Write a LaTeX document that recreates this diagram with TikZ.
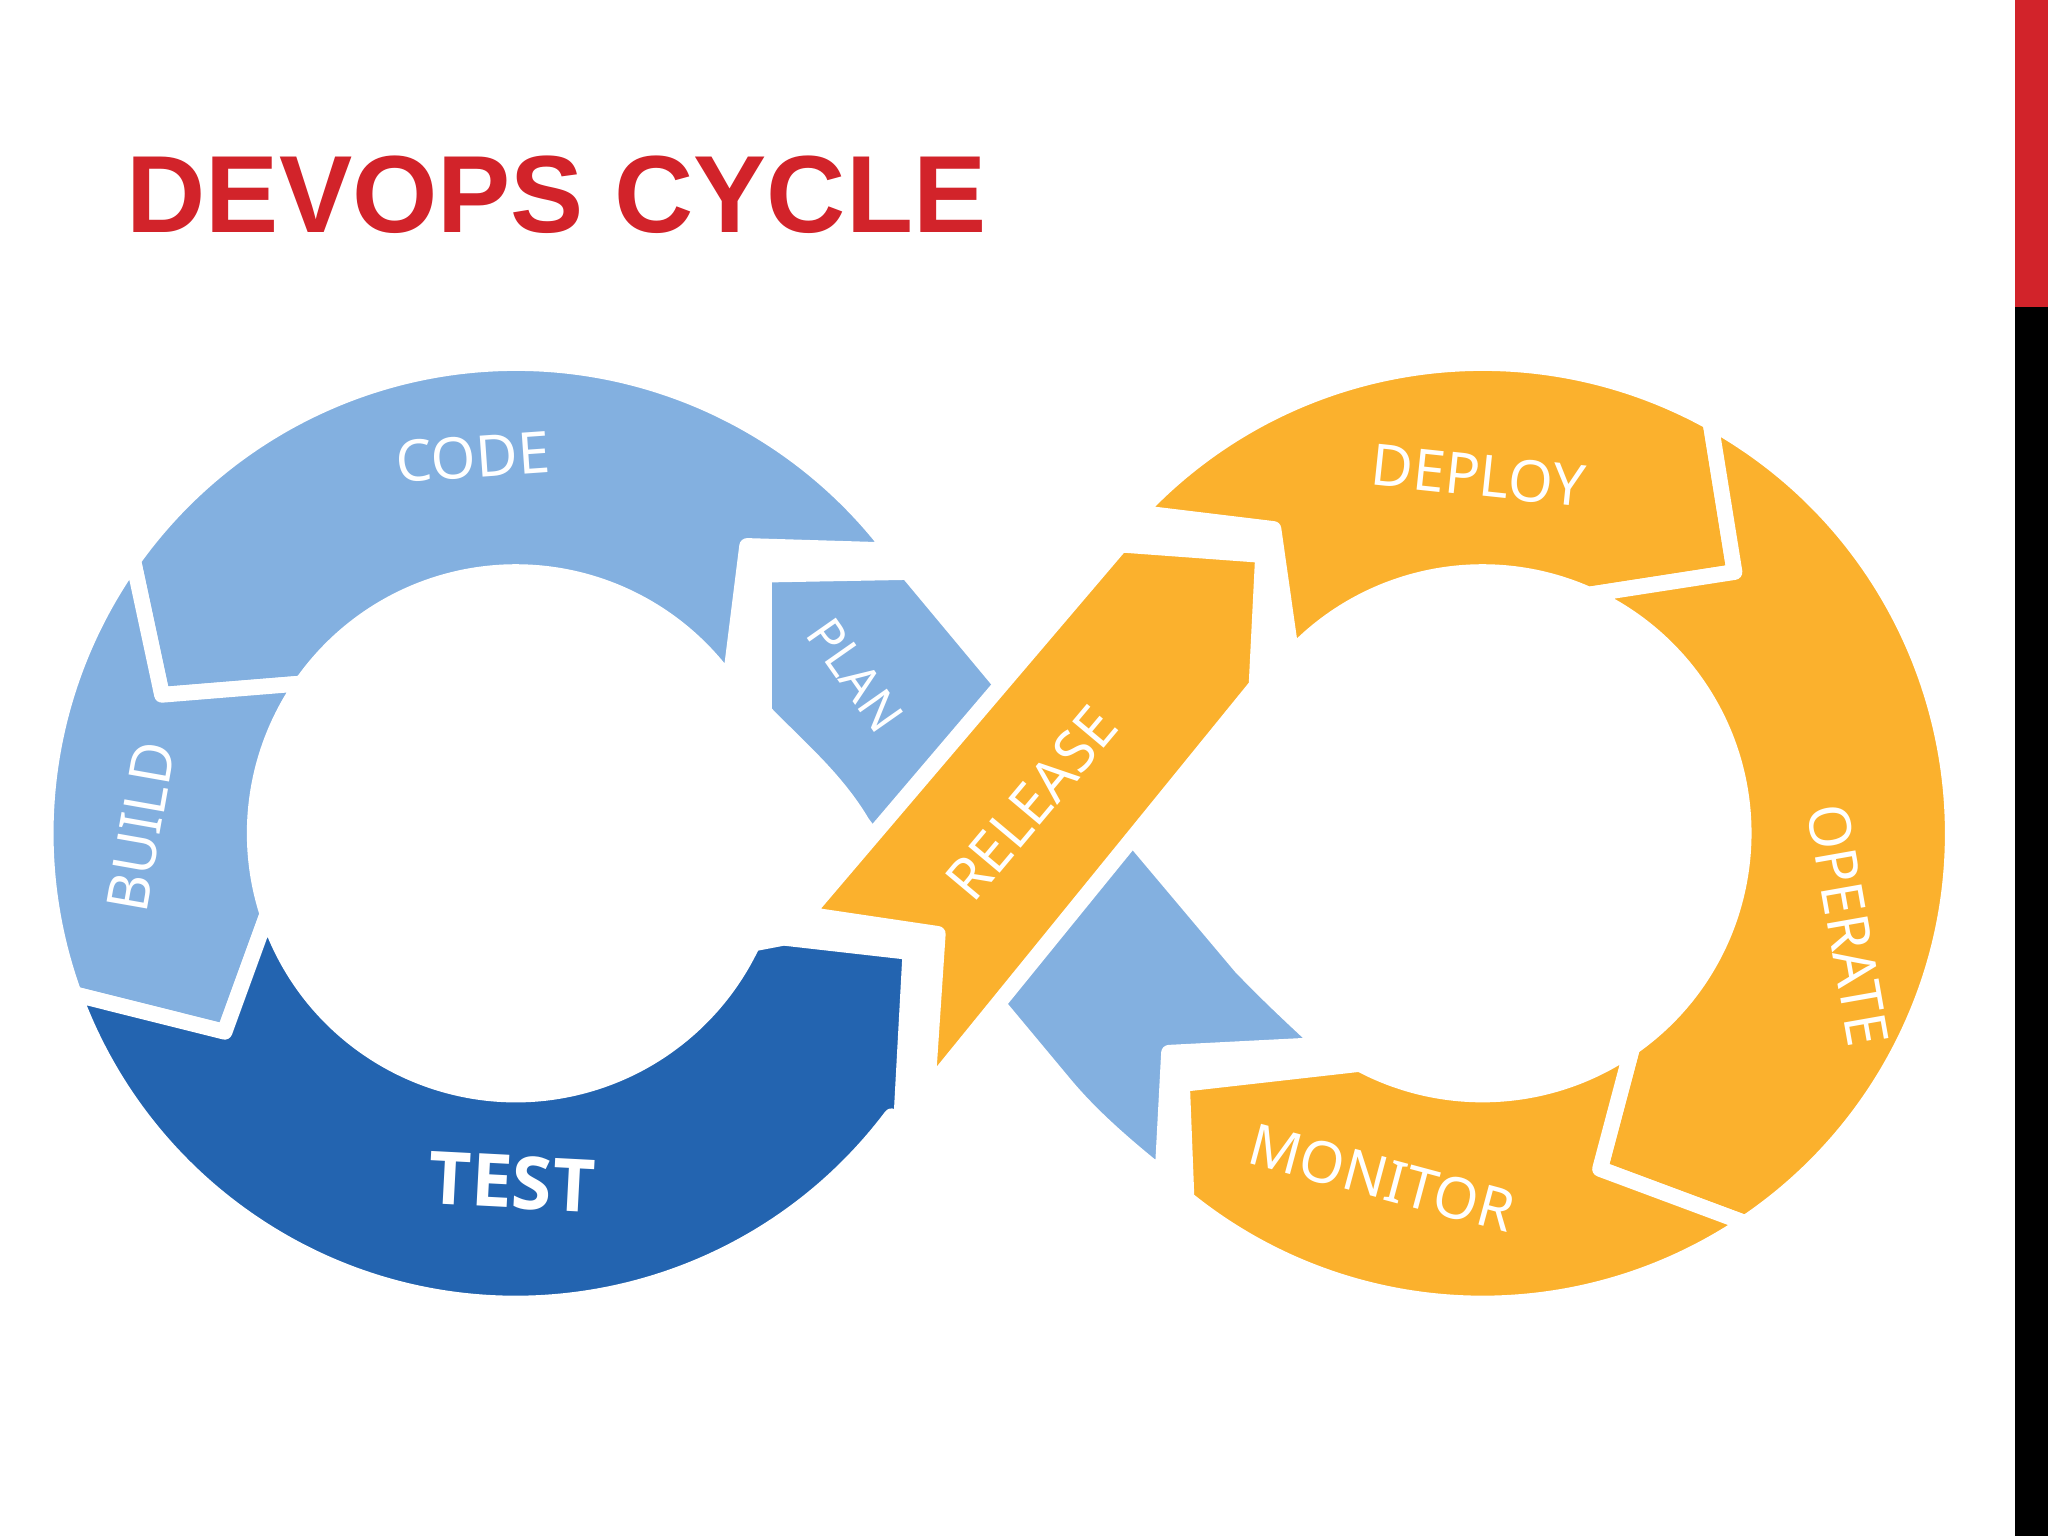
\documentclass[tikz,border=0pt]{standalone}
\usepackage{fontspec}
\setmainfont{Noto Sans}
\newfontfamily\titlefont{Liberation Sans}
\newfontfamily\testfont{Open Sans}
\definecolor{lblue}{HTML}{83B0E0}
\definecolor{dblue}{HTML}{2364B0}
\definecolor{orng}{HTML}{FBB12D}
\definecolor{tred}{HTML}{D2232A}
\begin{document}
\begin{tikzpicture}[x=0.5pt,y=0.5pt,
  piece/.style={draw=white,line width=6pt,line join=round},
  lab/.style={text=white,font=\fontsize{22}{22}\selectfont}]
\useasboundingbox (0,0) rectangle (1568,1176);
\fill[white] (0,0) rectangle (1568,1176);
\fill[black] (1543,0) rectangle (1568,941);
\fill[tred] (1543,941) rectangle (1568,1176);
\node[anchor=west,text=tred,font=\titlefont\bfseries\fontsize{42}{42}\selectfont] (title) at (90,1027) {DEVOPS CYCLE};
% crossing light blue band
\path[piece,fill=lblue] (585,736) -- (695,738) -- (765,654) -- (870,531) -- (950,436) .. controls (975,410) and (995,392) .. (1012,376) -- (895,370) -- (890,276) .. controls (860,300) and (835,322) .. (815,346) -- (765,406) -- (660,546) .. controls (640,580) and (610,605) .. (585,631) -- cycle;
% release band
\path[piece,fill=orng] (617,476) -- (718,461) -- (710,341) -- (962,651) -- (967,751) -- (858,759) -- cycle;
\begin{scope}[shift={(395,538)}]
\path[piece,fill=lblue] (37:360) arc[start angle=37,end angle=144.5,radius=360] -- (-271,106) -- (145:200) arc[start angle=145,end angle=35,radius=200] -- (177,220) -- cycle;
\path[piece,fill=lblue] (144.5:360) arc[start angle=144.5,end angle=200,radius=360] -- (-223,-152) -- (198:200) arc[start angle=198,end angle=145,radius=200] -- (-271,106) -- cycle;
\path[piece,fill=dblue] (200:360) -- (-223,-152) -- (198:200) arc[start angle=198,end angle=335,radius=200] -- (205,-80) -- (302,-91) -- (295,-220) -- (323:360) arc[start angle=323,end angle=200,radius=360] -- cycle;
\end{scope}
\begin{scope}[shift={(1135,538)}]
\path[piece,fill=orng] (137:360) arc[start angle=137,end angle=61,radius=360] -- (193,200) -- (66:200) arc[start angle=66,end angle=137,radius=200] -- (-160,233) -- cycle;
\path[piece,fill=orng] (61:360) arc[start angle=61,end angle=-56,radius=360] -- (90,-257) -- (-55:200) arc[start angle=-55,end angle=66,radius=200] -- (193,200) -- cycle;
\path[piece,fill=orng] (-56:360) arc[start angle=-56,end angle=-129,radius=360] -- (-230,-192) -- (-118:200) arc[start angle=-118,end angle=-55,radius=200] -- (90,-257) -- cycle;
\end{scope}
\node[lab,rotate=4] (code) at (362,826) {CODE};
\node[lab,rotate=80] (build) at (108,543) {BUILD};
\node[lab,rotate=-3,font=\testfont\bfseries\fontsize{28}{28}\selectfont] (test) at (392,271) {TEST};
\node[lab,rotate=-55,font=\fontsize{19}{19}\selectfont] (plan) at (655,659) {PLAN};
\node[lab,rotate=50] (release) at (790,561) {RELEASE};
\node[lab,rotate=-6] (deploy) at (1132,812) {DEPLOY};
\node[lab,rotate=-80] (operate) at (1415,468) {OPERATE};
\node[lab,rotate=-15] (monitor) at (1058,274) {MONITOR};
\end{tikzpicture}
\end{document}
